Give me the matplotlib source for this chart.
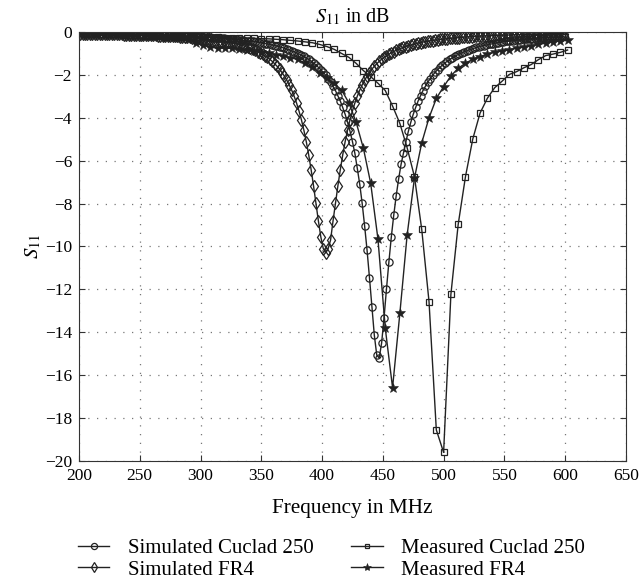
import matplotlib
matplotlib.use("Agg")
import matplotlib.pyplot as plt
import numpy as np

# Simulated curves: 201..599 MHz, step 2
sim_freq = list(range(201, 600, 2))
sim_cuclad = [
    -0.08, -0.08, -0.09, -0.09, -0.09, -0.09, -0.09, -0.09, -0.09, -0.10,
    -0.10, -0.10, -0.10, -0.10, -0.11, -0.11, -0.11, -0.11, -0.11, -0.12,
    -0.12, -0.12, -0.12, -0.12, -0.13, -0.13, -0.13, -0.14, -0.14, -0.14,
    -0.14, -0.15, -0.15, -0.15, -0.16, -0.16, -0.16, -0.17, -0.17, -0.18,
    -0.18, -0.18, -0.19, -0.19, -0.20, -0.20, -0.21, -0.21, -0.22, -0.23,
    -0.23, -0.24, -0.24, -0.25, -0.26, -0.27, -0.27, -0.28, -0.29, -0.30,
    -0.31, -0.32, -0.33, -0.34, -0.35, -0.36, -0.37, -0.39, -0.40, -0.41,
    -0.43, -0.44, -0.46, -0.48, -0.50, -0.52, -0.54, -0.56, -0.58, -0.61,
    -0.63, -0.66, -0.69, -0.72, -0.76, -0.80, -0.83, -0.88, -0.92, -0.97,
    -1.02, -1.08, -1.14, -1.21, -1.28, -1.36, -1.45, -1.54, -1.65, -1.76,
    -1.88, -2.02, -2.17, -2.34, -2.53, -2.73, -2.97, -3.22, -3.52, -3.84,
    -4.21, -4.63, -5.11, -5.66, -6.36, -7.10, -7.99, -9.03, -10.16, -11.45,
    -12.81, -14.14, -15.06, -15.20, -14.50, -13.32, -11.98, -10.71, -9.54, -8.53,
    -7.63, -6.85, -6.17, -5.63, -5.11, -4.63, -4.21, -3.84, -3.52, -3.22,
    -2.97, -2.73, -2.53, -2.34, -2.17, -2.02, -1.88, -1.76, -1.65, -1.54,
    -1.45, -1.36, -1.28, -1.21, -1.14, -1.08, -1.02, -0.97, -0.92, -0.88,
    -0.83, -0.80, -0.76, -0.72, -0.69, -0.66, -0.63, -0.61, -0.58, -0.56,
    -0.54, -0.52, -0.50, -0.48, -0.46, -0.44, -0.43, -0.41, -0.40, -0.39,
    -0.37, -0.36, -0.35, -0.34, -0.33, -0.32, -0.31, -0.30, -0.29, -0.28,
    -0.27, -0.27, -0.26, -0.25, -0.24, -0.24, -0.23, -0.23, -0.22, -0.21,
]
sim_fr4 = [
    -0.08, -0.08, -0.08, -0.08, -0.09, -0.09, -0.09, -0.09, -0.09, -0.09,
    -0.10, -0.10, -0.10, -0.10, -0.11, -0.11, -0.11, -0.11, -0.12, -0.12,
    -0.12, -0.12, -0.13, -0.13, -0.13, -0.14, -0.14, -0.15, -0.15, -0.15,
    -0.16, -0.16, -0.17, -0.17, -0.18, -0.18, -0.19, -0.19, -0.20, -0.20,
    -0.21, -0.22, -0.23, -0.23, -0.24, -0.25, -0.26, -0.27, -0.28, -0.29,
    -0.30, -0.31, -0.33, -0.34, -0.35, -0.37, -0.38, -0.40, -0.41, -0.43,
    -0.45, -0.47, -0.50, -0.52, -0.55, -0.58, -0.61, -0.64, -0.68, -0.72,
    -0.76, -0.80, -0.85, -0.91, -0.97, -1.03, -1.11, -1.18, -1.27, -1.37,
    -1.48, -1.60, -1.73, -1.89, -2.06, -2.25, -2.47, -2.71, -2.99, -3.31,
    -3.68, -4.09, -4.57, -5.11, -5.73, -6.42, -7.18, -7.99, -8.82, -9.56,
    -10.10, -10.30, -10.10, -9.70, -8.82, -7.99, -7.18, -6.42, -5.73, -5.11,
    -4.57, -4.09, -3.68, -3.31, -2.99, -2.71, -2.47, -2.25, -2.06, -1.89,
    -1.73, -1.60, -1.48, -1.37, -1.27, -1.18, -1.11, -1.03, -0.97, -0.91,
    -0.85, -0.80, -0.76, -0.72, -0.68, -0.64, -0.61, -0.58, -0.55, -0.52,
    -0.50, -0.47, -0.45, -0.43, -0.41, -0.40, -0.38, -0.37, -0.35, -0.34,
    -0.33, -0.31, -0.30, -0.29, -0.28, -0.27, -0.26, -0.25, -0.24, -0.23,
    -0.23, -0.22, -0.21, -0.20, -0.20, -0.19, -0.19, -0.18, -0.18, -0.17,
    -0.17, -0.16, -0.16, -0.15, -0.15, -0.15, -0.14, -0.14, -0.13, -0.13,
    -0.13, -0.12, -0.12, -0.12, -0.12, -0.11, -0.11, -0.11, -0.11, -0.10,
    -0.10, -0.10, -0.10, -0.09, -0.09, -0.09, -0.09, -0.09, -0.09, -0.08,
]

# Measured curves: 200..602 MHz, step 6
meas_freq = list(range(200, 603, 6))
meas_cuclad = [
    -0.05, -0.06, -0.07, -0.08, -0.09, -0.10, -0.12, -0.14, -0.16, -0.18,
    -0.20, -0.21, -0.22, -0.22, -0.22, -0.21, -0.22, -0.23, -0.24, -0.25,
    -0.26, -0.27, -0.28, -0.29, -0.30, -0.31, -0.32, -0.34, -0.36, -0.39,
    -0.42, -0.46, -0.50, -0.58, -0.68, -0.81, -1.00, -1.18, -1.46, -1.80,
    -2.08, -2.39, -2.73, -3.45, -4.26, -5.40, -6.74, -9.20, -12.57, -18.55,
    -19.60, -12.23, -8.97, -6.74, -4.99, -3.78, -3.09, -2.60, -2.30, -1.98,
    -1.85, -1.67, -1.52, -1.29, -1.10, -1.03, -0.95, -0.84,
]
meas_fr4 = [
    -0.02, -0.03, -0.04, -0.05, -0.06, -0.08, -0.10, -0.12, -0.14, -0.16,
    -0.18, -0.20, -0.22, -0.24, -0.27, -0.32, -0.50, -0.62, -0.70, -0.76,
    -0.75, -0.76, -0.80, -0.84, -0.88, -0.92, -0.98, -1.05, -1.12, -1.20,
    -1.28, -1.45, -1.65, -1.90, -2.15, -2.40, -2.70, -3.30, -4.20, -5.42,
    -7.05, -9.66, -13.81, -16.58, -13.12, -9.46, -6.82, -5.17, -4.00, -3.10,
    -2.55, -2.05, -1.69, -1.46, -1.27, -1.15, -1.03, -0.95, -0.88, -0.82,
    -0.76, -0.70, -0.64, -0.58, -0.52, -0.46, -0.41, -0.37,
]

labels = ["Simulated Cuclad 250", "Simulated FR4", "Measured Cuclad 250", "Measured FR4"]
x_ticks = [200, 250, 300, 350, 400, 450, 500, 550, 600, 650]
y_ticks = [0, -2, -4, -6, -8, -10, -12, -14, -16, -18, -20]

plt.rcParams['font.family'] = ['Liberation Serif', 'DejaVu Serif']
plt.rcParams['mathtext.fontset'] = 'stix'

fig = plt.figure(figsize=(6.4, 5.88), dpi=100)
ax = fig.add_axes([0.1234, 0.216, 0.8546, 0.7296])

col = '#222222'
l1, = ax.plot(sim_freq, sim_cuclad, color=col, lw=1.0, marker='o', ms=5.2,
              mfc='none', mec=col, mew=0.9)
l2, = ax.plot(sim_freq, sim_fr4, color=col, lw=1.0, marker='d', ms=6,
              mfc='none', mec=col, mew=0.9)
l3, = ax.plot(meas_freq, meas_cuclad, color=col, lw=1.0, marker='s', ms=4.2,
              mfc='none', mec=col, mew=0.9)
l4, = ax.plot(meas_freq, meas_fr4, color=col, lw=1.0, marker='*', ms=7,
              mfc=col, mec=col, mew=0.4)

ax.set_xlim(200, 650)
ax.set_ylim(-20, 0)
ax.set_xticks(x_ticks)
ax.set_yticks(y_ticks)
ax.set_yticklabels(["0" if v == 0 else "\u2212%d" % (-v) for v in y_ticks])
ax.tick_params(direction='in', top=True, right=True, labelsize=12.5, length=4,
               width=0.8, color='#333333', pad=5)
ax.grid(True, color='#777777', linestyle=(0, (1, 6)), linewidth=0.9)
for s in ax.spines.values():
    s.set_linewidth(0.8)
    s.set_color('#333333')

ax.set_title(r"$S_{11}$ in dB", fontsize=14.5, pad=7)
ax.set_xlabel("Frequency in MHz", fontsize=15.3, labelpad=11)
ax.set_ylabel(r"$S_{11}$", fontsize=15, labelpad=1)

fig.legend([l1, l2, l3, l4], labels, loc='lower left',
           bbox_to_anchor=(0.122, 0.014), ncol=2, frameon=False, fontsize=15,
           handlelength=1.5, columnspacing=1.8, labelspacing=0.1,
           markerscale=0.85, handletextpad=0.9, borderpad=0.0,
           borderaxespad=0.0)

fig.savefig("out.png", dpi=100)
